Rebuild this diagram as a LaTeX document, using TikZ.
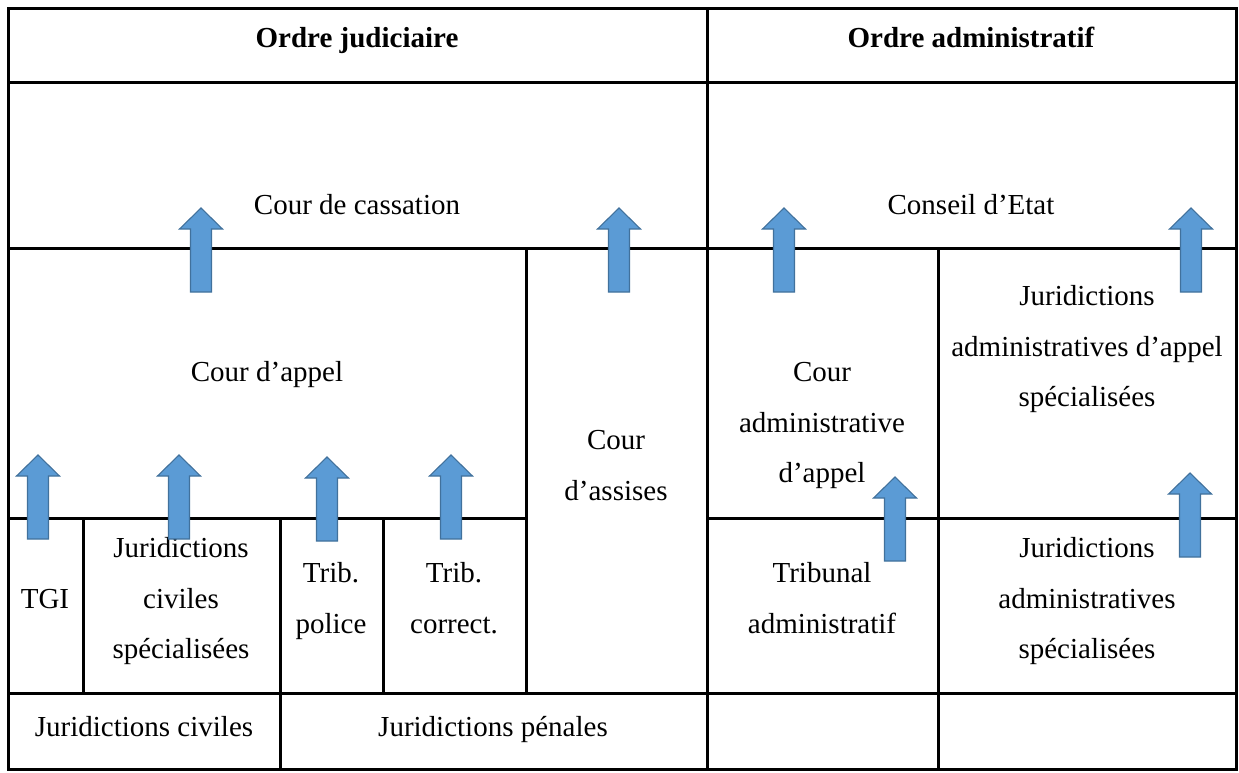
\documentclass[tikz,border=0pt]{standalone}
\usepackage{fontspec}
\setmainfont{Liberation Serif}
\definecolor{arrfill}{HTML}{5B9BD5}
\definecolor{arrline}{HTML}{41719C}
\begin{document}
\begin{tikzpicture}[x=1pt,y=-1pt,
  grid/.style={line width=3pt,line cap=rect},
  lbl/.style={align=center,inner sep=0pt,font=\fontsize{29}{50.5}\selectfont},
  hdr/.style={lbl,font=\fontsize{29}{50.5}\selectfont\bfseries},
  uparr/.pic={\draw[arrline,fill=arrfill,line width=1.1pt,line join=miter]
     (0,0) -- (21.5,21) -- (10.5,21) -- (10.5,84) -- (-10.5,84) -- (-10.5,21) -- (-21.5,21) -- cycle;}]
\useasboundingbox (0,0) rectangle (1239,772);
\fill[white] (0,0) rectangle (1239,772);
% grid
\draw[grid] (8,8) rectangle (1236,769);
\draw[grid] (8,82) -- (1236,82);
\draw[grid] (8,248) -- (1236,248);
\draw[grid] (8,518) -- (526,518);
\draw[grid] (707,518) -- (1236,518);
\draw[grid] (8,693) -- (1236,693);
\draw[grid] (707,8) -- (707,769);
\draw[grid] (526,248) -- (526,693);
\draw[grid] (83,518) -- (83,693);
\draw[grid] (280,518) -- (280,769);
\draw[grid] (383,518) -- (383,693);
\draw[grid] (938,248) -- (938,769);
% headers
\node[hdr] (oj) at (357,37) {\strut Ordre judiciaire};
\node[hdr] (oa) at (971,37) {\strut Ordre administratif};
% texts
\node[lbl] (cc) at (357,204) {\strut Cour de cassation};
\node[lbl] (ce) at (971,204) {\strut Conseil d’Etat};
\node[lbl] (ca) at (267,371) {\strut Cour d’appel};
\node[lbl] (cas) at (616,465) {\strut Cour\\\strut d’assises};
\node[lbl] (caa) at (822,422) {\strut Cour\\\strut administrative\\\strut d’appel};
\node[lbl] (jaas) at (1087,346) {\strut Juridictions\\\strut administratives d’appel\\\strut spécialisées};
\node[lbl] (tgi) at (45,598) {\strut TGI};
\node[lbl] (jcs) at (181,598) {\strut Juridictions\\\strut civiles\\\strut spécialisées};
\node[lbl] (tp) at (331,598) {\strut Trib.\\\strut police};
\node[lbl] (tc) at (454,598) {\strut Trib.\\\strut correct.};
\node[lbl] (ta) at (822,598) {\strut Tribunal\\\strut administratif};
\node[lbl] (jas) at (1087,598) {\strut Juridictions\\\strut administratives\\\strut spécialisées};
\node[lbl] (jc) at (144,726) {\strut Juridictions civiles};
\node[lbl] (jp) at (493,726) {\strut Juridictions pénales};
% arrows
\pic at (201,208) {uparr};
\pic at (619,208) {uparr};
\pic at (784,208) {uparr};
\pic at (1191,208) {uparr};
\pic at (38,455) {uparr};
\pic at (179,455) {uparr};
\pic at (327,457) {uparr};
\pic at (451,455) {uparr};
\pic at (895,477) {uparr};
\pic at (1190,473) {uparr};
\end{tikzpicture}
\end{document}
